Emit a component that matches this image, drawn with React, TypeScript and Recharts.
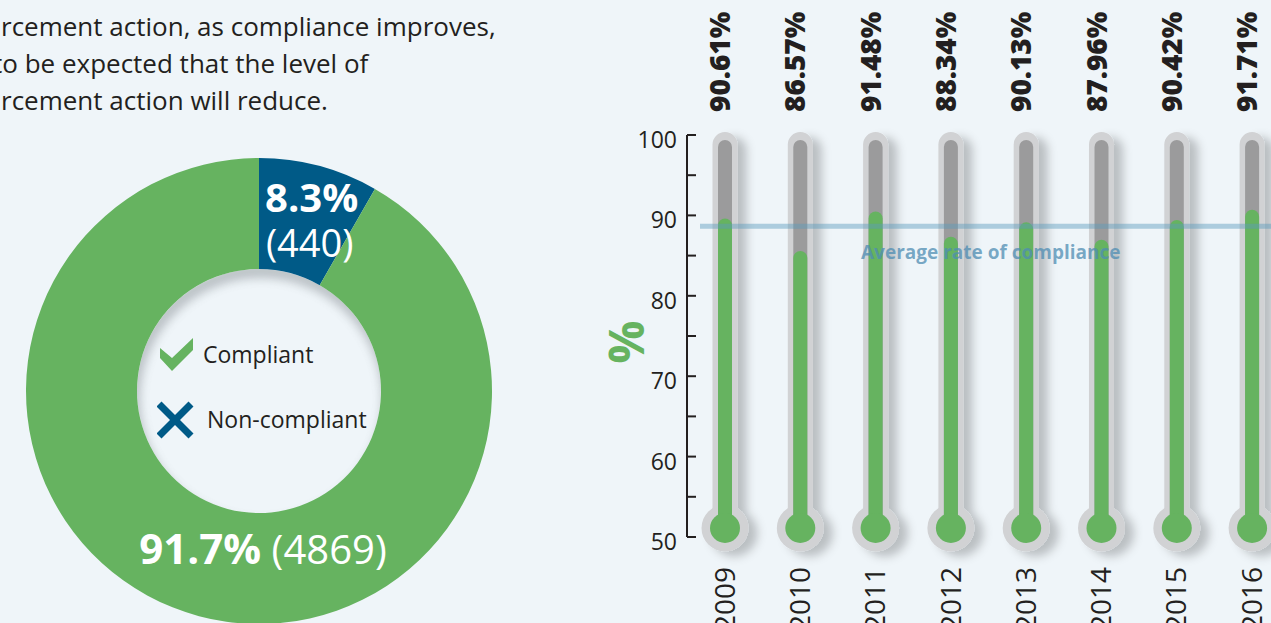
import {
  Bar,
  BarChart,
  Customized,
  LabelList,
  Legend,
  Pie,
  PieChart,
  ReferenceLine,
  XAxis,
  YAxis,
  Cell,
} from "recharts";

// ---- data ----
const years = ["2009", "2010", "2011", "2012", "2013", "2014", "2015", "2016"];
const complianceRates = [90.61, 86.57, 91.48, 88.34, 90.13, 87.96, 90.42, 91.71];
const averageRate = 89.65;
const rateTicks = [50, 55, 60, 65, 70, 75, 80, 85, 90, 95, 100];

const statusNames = ["Non-compliant", "Compliant"];
const statusCounts = [440, 4869];
const statusShares = [8.3, 91.7];
const legendOrder = ["Compliant", "Non-compliant"];

const introLines = [
  "rcement action, as compliance improves,",
  "to be expected that the level of",
  "rcement action will reduce.",
];

// ---- styling ----
const BG = "#eff5f9";
const INK = "#231f20";
const GREEN = "#66b360";
const BLUE = "#005a87";
const SANS = "'Open Sans', 'Noto Sans', sans-serif";

// the thermometers sit a little below their axis position in the original
const DRAW_OFFSET = 8;

const DONUT_CX = 259;
const DONUT_CY = 391;
const DONUT_IR = 122;
const DONUT_OR = 233;

const rateData = years.map((year, i) => ({ year, rate: complianceRates[i] }));
const statusData = statusNames.map((name, i) => ({
  name,
  count: statusCounts[i],
  share: statusShares[i],
}));

function HoleShade() {
  return (
    <g>
      <defs>
        <clipPath id="donutHole">
          <circle cx={DONUT_CX} cy={DONUT_CY} r={DONUT_IR} />
        </clipPath>
        <filter id="holeBlur" x="-20%" y="-20%" width="140%" height="140%">
          <feGaussianBlur stdDeviation="5" />
        </filter>
      </defs>
      <g clipPath="url(#donutHole)">
        <circle
          cx={DONUT_CX + 2}
          cy={DONUT_CY + 8}
          r={DONUT_IR + 6}
          fill="none"
          stroke="#7d8388"
          strokeWidth={14}
          opacity={0.45}
          filter="url(#holeBlur)"
        />
      </g>
    </g>
  );
}

function SliceLabel(props: any) {
  const { cx, cy, innerRadius, outerRadius, midAngle, index, payload } = props;
  const r = (innerRadius + outerRadius) / 2;
  const angle = index === 0 ? midAngle : -90;
  const rad = (-angle * Math.PI) / 180;
  const x = cx + r * Math.cos(rad);
  const y = cy + r * Math.sin(rad);
  if (index === 0) {
    return (
      <g fill="#fff" fontFamily={SANS}>
        <text x={x + 7} y={y - 7} textAnchor="middle" fontSize={40} fontWeight={700}>
          {payload.share}%
        </text>
        <text x={x + 5} y={y + 38} textAnchor="middle" fontSize={38}>
          ({payload.count})
        </text>
      </g>
    );
  }
  return (
    <text x={x + 4} y={y - 5} textAnchor="middle" fill="#fff" fontFamily={SANS} fontSize={40}>
      <tspan fontWeight={700} fontSize={42}>
        {payload.share}%
      </tspan>
      <tspan> ({payload.count})</tspan>
    </text>
  );
}

function StatusLegend(props: any) {
  const items = [...(props.payload ?? [])].sort(
    (a: any, b: any) => legendOrder.indexOf(a.value) - legendOrder.indexOf(b.value)
  );
  return (
    <svg width={230} height={110}>
      {items.map((item: any, i: number) => {
        const ok = item.value === "Compliant";
        const top = i * 64;
        return (
          <g key={item.value}>
            {ok ? (
              <polygon
                points={`3,${top + 10} 15,${top + 20} 36,${top} 36,${top + 12} 15,${top + 33} 3,${top + 20}`}
                fill={GREEN}
              />
            ) : (
              <g stroke={BLUE} strokeWidth={7}>
                <line x1={2} y1={top + 2} x2={34} y2={top + 34} />
                <line x1={34} y1={top + 2} x2={2} y2={top + 34} />
              </g>
            )}
            <text
              x={ok ? 46 : 50}
              y={ok ? top + 25 : top + 26}
              fill={INK}
              fontFamily={SANS}
              fontSize={23}
            >
              {item.value}
            </text>
          </g>
        );
      })}
    </svg>
  );
}

function Tube(props: any) {
  const { x, y, width, height } = props;
  const cx = x + width / 2;
  const bulbY = y + height - 9;
  return (
    <g filter="url(#thermoShadow)">
      <rect x={cx - 12.5} y={y - 3} width={25} height={bulbY - y + 3} rx={12.5} fill="#d1d2d4" />
      <circle cx={cx} cy={bulbY} r={23.5} fill="#d1d2d4" />
      <rect x={cx - 7} y={y + 5} width={14} height={bulbY - y - 5} rx={7} fill="#9b9b9c" />
    </g>
  );
}

function Mercury(props: any) {
  const { x, y, width, height } = props;
  const cx = x + width / 2;
  const bulbY = y + height - 9;
  const top = y + DRAW_OFFSET;
  return (
    <g>
      <rect x={cx - 7} y={top} width={14} height={bulbY - top} rx={7} fill={GREEN} />
      <circle cx={cx} cy={bulbY} r={15} fill={GREEN} />
    </g>
  );
}

function RateLabel(props: any) {
  const { x, width, value } = props;
  const bx = x + width / 2 + 5;
  const by = 112;
  return (
    <text
      x={bx}
      y={by}
      transform={`rotate(-90 ${bx} ${by})`}
      fill={INK}
      fontFamily={SANS}
      fontWeight={800}
      fontSize={28}
    >
      {Number(value).toFixed(2)}%
    </text>
  );
}

function YearTick(props: any) {
  const { x, y, payload } = props;
  const bx = x + 10;
  const by = y + 30;
  return (
    <text
      x={bx}
      y={by}
      transform={`rotate(-90 ${bx} ${by})`}
      textAnchor="end"
      fill={INK}
      fontFamily={SANS}
      fontSize={28}
    >
      {payload.value}
    </text>
  );
}

function RateTick(props: any) {
  const { x, y, payload } = props;
  const major = payload.value % 10 === 0;
  return (
    <g>
      <line x1={x + 10} y1={y} x2={x + 19} y2={y} stroke={INK} strokeWidth={2} />
      {major && (
        <text x={x} y={y + 13} textAnchor="end" fill={INK} fontFamily={SANS} fontSize={23}>
          {payload.value}
        </text>
      )}
    </g>
  );
}

function PercentLabel(props: any) {
  const { viewBox } = props;
  const bx = viewBox.x + viewBox.width - 43;
  const by = viewBox.y + viewBox.height / 2 + 6;
  return (
    <text
      x={bx}
      y={by}
      transform={`rotate(-90 ${bx} ${by})`}
      textAnchor="middle"
      fill={GREEN}
      fontFamily={SANS}
      fontWeight={700}
      fontSize={48}
    >
      %
    </text>
  );
}

function AverageLine(props: any) {
  const { x1, y1, x2, y2 } = props;
  return (
    <line
      x1={x1 + 13}
      y1={y1 + DRAW_OFFSET}
      x2={x2}
      y2={y2 + DRAW_OFFSET}
      stroke="#5b9bbd"
      strokeOpacity={0.45}
      strokeWidth={5}
    />
  );
}

function AverageLabel(props: any) {
  const { viewBox } = props;
  return (
    <text
      x={viewBox.x + 174}
      y={viewBox.y + DRAW_OFFSET + 33}
      fill="#4f8db3"
      fillOpacity={0.75}
      fontFamily={SANS}
      fontWeight={700}
      fontSize={19}
    >
      Average rate of compliance
    </text>
  );
}

export default function App() {
  return (
    <div
      style={{
        position: "fixed",
        left: 0,
        top: 0,
        width: 1271,
        height: 623,
        overflow: "hidden",
        background: BG,
      }}
    >
      <svg width={520} height={130} style={{ position: "absolute", left: 0, top: 0 }}>
        {introLines.map((line, i) => (
          <text
            key={i}
            x={i === 1 ? -7 : 1}
            y={36 + i * 37}
            fill={INK}
            fontFamily={SANS}
            fontSize={26}
          >
            {line}
          </text>
        ))}
      </svg>

      <div style={{ position: "absolute", left: 0, top: 0 }}>
        <PieChart width={520} height={623} margin={{ top: 0, right: 0, bottom: 0, left: 0 }}>
          <Pie
            data={statusData}
            dataKey="count"
            nameKey="name"
            cx={DONUT_CX}
            cy={DONUT_CY}
            innerRadius={DONUT_IR}
            outerRadius={DONUT_OR}
            startAngle={90}
            endAngle={-270}
            stroke="none"
            labelLine={false}
            label={SliceLabel}
            isAnimationActive={false}
          >
            {statusData.map((d) => (
              <Cell key={d.name} fill={d.name === "Compliant" ? GREEN : BLUE} />
            ))}
          </Pie>
          <Customized component={HoleShade} />
          <Legend
            content={StatusLegend}
            wrapperStyle={{ left: 157, top: 338, width: 230, height: 110, bottom: "auto" }}
          />
        </PieChart>
      </div>

      <div style={{ position: "absolute", left: 600, top: 0 }}>
        <BarChart
          width={700}
          height={623}
          data={rateData}
          margin={{ top: 135, right: 10.6, bottom: 0, left: 0 }}
        >
          <defs>
            <filter id="thermoShadow" x="-60%" y="-10%" width="260%" height="130%">
              <feDropShadow dx="9" dy="5" stdDeviation="5" floodColor="#000" floodOpacity="0.22" />
            </filter>
          </defs>
          <XAxis
            dataKey="year"
            axisLine={false}
            tickLine={false}
            tickSize={0}
            tickMargin={0}
            height={86}
            interval={0}
            tick={YearTick}
          />
          <YAxis
            type="number"
            domain={[50, 100]}
            ticks={rateTicks}
            interval={0}
            width={87}
            tickSize={6}
            tickMargin={4}
            tickLine={false}
            axisLine={{ stroke: INK, strokeWidth: 2 }}
            tick={RateTick}
            label={PercentLabel}
          />
          <Bar
            dataKey="rate"
            barSize={14}
            background={Tube}
            shape={Mercury}
            isAnimationActive={false}
          >
            <LabelList dataKey="rate" content={RateLabel} />
          </Bar>
          <ReferenceLine
            y={averageRate}
            shape={AverageLine}
            label={AverageLabel}
            ifOverflow="visible"
          />
        </BarChart>
      </div>
    </div>
  );
}
